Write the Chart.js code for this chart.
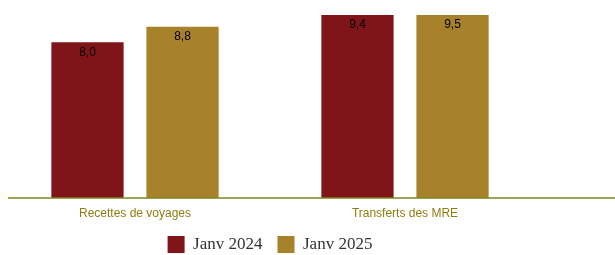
<!DOCTYPE html>
<html>
<head>
<meta charset="utf-8">
<script src="https://cdn.jsdelivr.net/npm/chart.js@4"></script>
<style>
  body { margin: 0; background: #fff; }
  #wrap { width: 615px; height: 255px; }
</style>
</head>
<body>
<div id="wrap"><canvas id="chart" width="615" height="255"></canvas></div>
<script>
var categories = ["Recettes de voyages", "Transferts des MRE"];
var seriesNames = ["Janv 2024", "Janv 2025"];
var values2024 = [8.0, 9.4];
var values2025 = [8.8, 9.5];

// axis baseline runs wider than the plotting area in the original
var baseLine = {
  id: "baseLine",
  afterDatasetsDraw: function(chart) {
    var ctx = chart.ctx;
    var y = chart.chartArea.bottom;
    ctx.save();
    ctx.strokeStyle = "#7b861c";
    ctx.lineWidth = 1.5;
    ctx.beginPath();
    ctx.moveTo(8, y);
    ctx.lineTo(615, y);
    ctx.stroke();
    ctx.restore();
  }
};

var valueLabels = {
  id: "valueLabels",
  afterDatasetsDraw: function(chart) {
    var ctx = chart.ctx;
    ctx.save();
    ctx.font = "12px Arial, 'Liberation Sans'";
    ctx.fillStyle = "#000";
    ctx.textAlign = "center";
    ctx.textBaseline = "middle";
    chart.data.datasets.forEach(function(ds, i) {
      chart.getDatasetMeta(i).data.forEach(function(bar, j) {
        var top = Math.max(bar.y, chart.chartArea.top);
        ctx.fillText(ds.data[j].toFixed(1).replace(".", ","), bar.x, top + 10);
      });
    });
    ctx.restore();
  }
};

var ctx = document.getElementById("chart").getContext("2d");
var chart = new Chart(ctx, {
  type: "bar",
  data: {
    labels: categories,
    datasets: [
      { label: seriesNames[0], data: values2024, backgroundColor: "#7f1518" },
      { label: seriesNames[1], data: values2025, backgroundColor: "#a8812b" }
    ]
  },
  options: {
    responsive: false,
    animation: false,
    categoryPercentage: 0.704,
    barPercentage: 0.76,
    layout: { padding: { top: 15, right: 75, left: 0, bottom: 0 } },
    scales: {
      x: {
        grid: { display: false, drawTicks: false },
        border: { display: false },
        // tick length is still reserved when ticks are hidden, drop it
        afterFit: function(scale) { scale.height = 23; },
        ticks: {
          color: "#8f7d12",
          font: { family: "Arial, 'Liberation Sans'", size: 12 },
          padding: 8
        }
      },
      y: {
        display: false,
        min: 0,
        max: 9.4
      }
    },
    plugins: {
      tooltip: { enabled: false },
      legend: {
        position: "bottom",
        maxHeight: 34,
        labels: {
          boxWidth: 17,
          boxHeight: 17,
          padding: 15,
          color: "#333",
          font: { family: "'Liberation Serif', 'Times New Roman', serif", size: 17 }
        }
      }
    }
  },
  plugins: [baseLine, valueLabels]
});
</script>
</body>
</html>
